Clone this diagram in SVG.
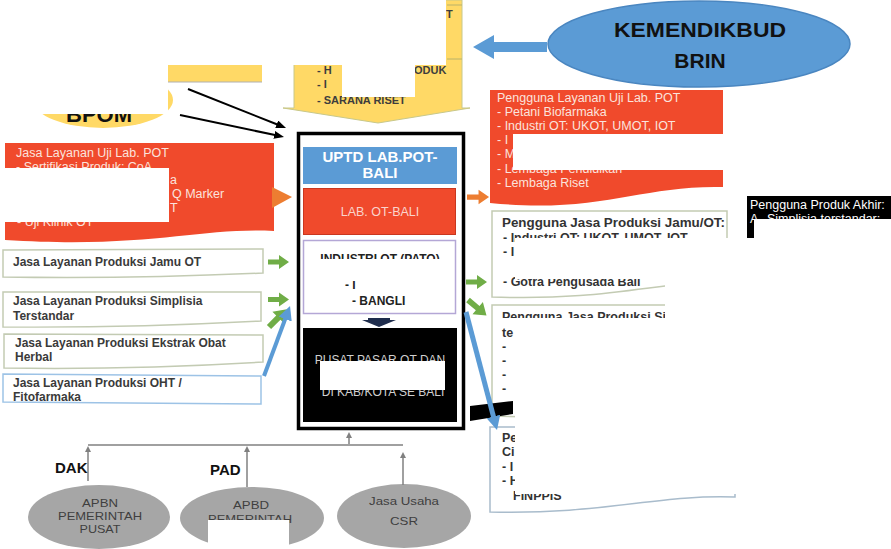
<svg xmlns="http://www.w3.org/2000/svg" width="891" height="549" viewBox="0 0 891 549">
<defs>
<style>
text{font-family:"Liberation Sans",Arial,sans-serif}
.svc{font-size:12px;font-weight:bold;fill:#3a3a3a}
.rw{font-size:12.5px;fill:#fbe3dd}
.rb{font-size:12.5px;font-weight:bold;fill:#333}
.yl{font-size:11px;font-weight:bold;fill:#3d3d3d}
.el{font-size:11px;fill:#3f3f3f;text-anchor:middle}
.doc{fill:#fff;stroke:#c3cbb3;stroke-width:1.5}
.red{fill:#f04a2c}
.wh{fill:#fff}
.gr{fill:#70ad47}
.or{fill:#ed7d31}
.fund{stroke:#808080;stroke-width:1.5;fill:none}
.gel{fill:#a6a6a6}
</style>
<marker id="mk" markerUnits="userSpaceOnUse" markerWidth="10" markerHeight="8" refX="2" refY="4" orient="auto"><path d="M0,0 L10,4 L0,8 Z" fill="#000"/></marker>
<marker id="mb" markerUnits="userSpaceOnUse" markerWidth="14" markerHeight="14" refX="3" refY="7" orient="auto"><path d="M0,0 L14,7 L0,14 Z" fill="#5b9bd5"/></marker>
<marker id="mg" markerUnits="userSpaceOnUse" markerWidth="6" markerHeight="6" refX="1" refY="3" orient="auto"><path d="M0,0 L6,3 L0,6 Z" fill="#808080"/></marker>
<path id="blk" d="M0,-2.5 H11 V-7 L21,0 L11,7 V2.5 H0 Z"/>
</defs>
<rect width="891" height="549" fill="#fff"/>

<g id="yellow-top">
<path d="M294,0 H462 V108 H470 L378,123 L283,108 H294 Z" fill="#ffd966" stroke="#c8c88a" stroke-width="1"/>
<path d="M447,5 H462 M447,59 H462" stroke="#b9b26a" stroke-width="1"/>
<text class="yl" x="446" y="18">T</text>
<text class="yl" x="317" y="74">- H</text>
<text class="yl" x="414" y="74">ODUK</text>
<text class="yl" x="317" y="88">- I</text>
<text class="yl" x="317" y="104">- SARANA RISET</text>
</g>

<g id="yellow-left">
<rect x="168" y="65" width="94" height="17" fill="#ffd966"/>
<path d="M168,82 H262" stroke="#b0b0b0" stroke-width="1"/>
</g>

<g id="bpom">
<ellipse cx="103" cy="100" rx="70" ry="28" fill="#ffd966"/>
<text x="99" y="122" font-size="22" font-weight="bold" text-anchor="middle" fill="#111">BPOM</text>
</g>

<g id="kemendikbud">
<ellipse cx="699" cy="44" rx="151" ry="43" fill="#5b9bd5" stroke="#4a86c0" stroke-width="1.5"/>
<text x="700" y="37" font-size="21" font-weight="bold" text-anchor="middle" fill="#111" textLength="172" lengthAdjust="spacingAndGlyphs">KEMENDIKBUD</text>
<text x="700" y="68" font-size="21" font-weight="bold" text-anchor="middle" fill="#111">BRIN</text>
</g>

<g id="uji-lab-left">
<path class="red" d="M5,143 H274 V231 C200,227 150,249 5,240 Z"/>
<text class="rw" x="16" y="157">Jasa Layanan Uji Lab. POT</text>
<text class="rw" x="16" y="171">- Sertifikasi Produk: CoA</text>
<text class="rw" x="170" y="184">a</text>
<text class="rw" x="172" y="198">Q Marker</text>
<text class="rw" x="170" y="212">T</text>
<text class="rw" x="17" y="226">- Uji Klinik OT</text>
</g>

<g id="svc-jamu">
<path class="doc" d="M3,250 L263,249 L263,273 Q130,279 3,277 Z"/>
<text class="svc" x="13" y="266">Jasa Layanan Produksi Jamu OT</text>
</g>
<g id="svc-simplisia">
<path class="doc" d="M3,292 L261,292 L261,321 Q130,328 3,327 Z"/>
<text class="svc" x="13" y="305">Jasa Layanan Produksi Simplisia</text>
<text class="svc" x="13" y="320">Terstandar</text>
</g>
<g id="svc-ekstrak">
<path class="doc" d="M4,334 L263,335 L263,362 Q130,370 4,368 Z"/>
<text class="svc" x="15" y="347">Jasa Layanan Produksi Ekstrak Obat</text>
<text class="svc" x="15" y="361">Herbal</text>
</g>
<g id="svc-oht">
<path d="M3,374 L261,376 L261,404 L3,402 Z" fill="#fff" stroke="#9dc3e6" stroke-width="1.5"/>
<text class="svc" x="13" y="387">Jasa Layanan Produksi OHT /</text>
<text class="svc" x="13" y="401">Fitofarmaka</text>
</g>

<g id="uptd-frame">
<rect x="298.5" y="133.5" width="165" height="295" fill="#fff" stroke="#000" stroke-width="3.5"/>
</g>
<g id="uptd">
<rect x="303" y="147" width="154" height="37" fill="#5b9bd5"/>
<text x="380" y="162" font-size="15" font-weight="bold" fill="#fff" text-anchor="middle">UPTD LAB.POT-</text>
<text x="380" y="178" font-size="15" font-weight="bold" fill="#fff" text-anchor="middle">BALI</text>
</g>
<g id="lab-ot">
<rect x="303.5" y="188.5" width="152" height="46" class="red" stroke="#c9371f" stroke-width="1"/>
<text x="380" y="216" font-size="12.5" fill="#fad4cc" text-anchor="middle">LAB. OT-BALI</text>
</g>
<g id="industri">
<rect x="303.5" y="240.5" width="152" height="73" fill="#fff" stroke="#b4a7d6" stroke-width="1.5"/>
<text x="380" y="263" font-size="12" font-weight="bold" fill="#222" text-anchor="middle">INDUSTRI OT (PATO)</text>
<text x="345" y="289" font-size="12" font-weight="bold" fill="#222">- I</text>
<text x="352" y="305" font-size="12" font-weight="bold" fill="#222">- BANGLI</text>
</g>
<g id="pusat-pasar">
<rect x="303" y="328" width="154" height="94" fill="#000"/>
<text x="380" y="364" font-size="12" fill="#d0d0d0" text-anchor="middle">PUSAT PASAR OT DAN</text>
<text x="383" y="396" font-size="12" fill="#d0d0d0" text-anchor="middle">DI KAB/KOTA SE BALI</text>
</g>

<g id="uji-lab-right">
<path class="red" d="M490,90 H723 V187 C640,185 600,214 490,203 Z"/>
<text class="rw" x="497" y="102">Pengguna Layanan Uji Lab. POT</text>
<text class="rw" x="497" y="116">- Petani Biofarmaka</text>
<text class="rw" x="497" y="130">- Industri OT: UKOT, UMOT, IOT</text>
<text class="rw" x="497" y="144">- I</text>
<text class="rw" x="497" y="158">- M</text>
<text class="rw" x="497" y="173">- Lembaga Pendidikan</text>
<text class="rw" x="497" y="187">- Lembaga Riset</text>
</g>

<g id="produk-akhir">
<rect x="747" y="196" width="144" height="42" fill="#000"/>
<text x="750" y="209" font-size="12.5" fill="#fff">Pengguna Produk Akhir:</text>
<text x="750" y="223" font-size="12.5" fill="#fff">A.</text>
<text x="767" y="223" font-size="12.5" fill="#fff">Simplisia terstandar:</text>
</g>

<g id="pengguna-jamu">
<path class="doc" d="M492,211 H727 V280 C650,284 600,301 492,297 Z"/>
<text x="502" y="227" font-size="13" font-weight="bold" fill="#333" textLength="223" lengthAdjust="spacingAndGlyphs">Pengguna Jasa Produksi Jamu/OT:</text>
<text class="rb" x="503" y="242">- Industri OT: UKOT, UMOT, IOT</text>
<text class="rb" x="503" y="256">- I</text>
<text class="rb" x="503" y="286">- Gotra Pengusada Bali</text>
</g>

<g id="pengguna-simplisia">
<path class="doc" d="M492,305 H727 V405 C650,410 600,420 492,416 Z"/>
<text class="rb" x="502" y="321">Pengguna Jasa Produksi Sim</text>
<text class="rb" x="502" y="337">te</text>
<text class="rb" x="502" y="351">-</text>
<text class="rb" x="502" y="365">-</text>
<text class="rb" x="502" y="379">-</text>
<text class="rb" x="502" y="393">-</text>
</g>

<g id="pengguna-bawah">
<path d="M490,427 H735 V497 C660,494 600,515 490,512 Z" fill="#fff" stroke="#a9bccc" stroke-width="1.5"/>
<text class="rb" x="502" y="442">Pe</text>
<text class="rb" x="502" y="456">Ci</text>
<text class="rb" x="502" y="471">- I</text>
<text class="rb" x="502" y="485">- H</text>
<text class="rb" x="513" y="500">FINPPIS</text>
</g>

<g id="apbn">
<ellipse class="gel" cx="99" cy="517" rx="71" ry="32"/>
<text class="el" x="100" y="507" textLength="36" lengthAdjust="spacingAndGlyphs">APBN</text>
<text class="el" x="100" y="520" textLength="84" lengthAdjust="spacingAndGlyphs">PEMERINTAH</text>
<text class="el" x="100" y="533" textLength="41" lengthAdjust="spacingAndGlyphs">PUSAT</text>
</g>
<g id="apbd">
<ellipse class="gel" cx="252" cy="518" rx="72" ry="31"/>
<text class="el" x="251" y="509" textLength="36" lengthAdjust="spacingAndGlyphs">APBD</text>
<text class="el" x="250" y="523" textLength="84" lengthAdjust="spacingAndGlyphs">PEMERINTAH</text>
</g>
<g id="csr">
<ellipse class="gel" cx="404" cy="516" rx="67" ry="32"/>
<text class="el" x="404" y="505" textLength="70" lengthAdjust="spacingAndGlyphs">Jasa Usaha</text>
<text class="el" x="404" y="525" textLength="28" lengthAdjust="spacingAndGlyphs">CSR</text>
</g>

<g id="connectors">
<polygon points="547,42 494,42 494,35 473,47 494,59 494,52 547,52" fill="#5b9bd5"/>
<path d="M188,89 L278.6,125" stroke="#000" stroke-width="2" marker-end="url(#mk)"/>
<path d="M180,115 L276.2,135.3" stroke="#000" stroke-width="2" marker-end="url(#mk)"/>
<polygon class="or" points="272,187 292,197 272,208"/>
<use href="#blk" class="or" transform="translate(467,197) scale(1.05)"/>
<use href="#blk" class="gr" transform="translate(268,262)"/>
<use href="#blk" class="gr" transform="translate(268,299.5)"/>
<use href="#blk" class="gr" transform="translate(269,327) rotate(-45) scale(1.2)"/>
<use href="#blk" class="gr" transform="translate(466,282)"/>
<use href="#blk" class="gr" transform="translate(468,300) rotate(40) scale(1.15)"/>
<path d="M264,376 L286.2,316.3" stroke="#5b9bd5" stroke-width="4" fill="none" marker-end="url(#mb)"/>
<polygon points="362,320 368,320 368,318 390,318 390,320 396,320 379,327" fill="#1f2d4d"/>
<polygon points="470,406 513,401 513,414 470,421" fill="#000"/>
<path d="M466,312 L494.2,419.4" stroke="#5b9bd5" stroke-width="5" fill="none" marker-end="url(#mb)"/>
<path class="fund" d="M88,445 H403"/>
<path class="fund" d="M88,481 V451" marker-end="url(#mg)"/>
<path class="fund" d="M247,487 V451" marker-end="url(#mg)"/>
<path class="fund" d="M403,485 V457" marker-end="url(#mg)"/>
<path class="fund" d="M349,444 V437" marker-end="url(#mg)"/>
<text x="55" y="473" font-size="15" font-weight="bold" fill="#111">DAK</text>
<text x="210" y="475" font-size="15" font-weight="bold" fill="#111">PAD</text>
</g>

<g id="masks">
<rect class="wh" x="0" y="0" width="446" height="65"/>
<rect class="wh" x="0" y="65" width="168" height="49"/>
<rect class="wh" x="342" y="65" width="73" height="32"/>
<rect class="wh" x="0" y="168" width="169" height="54"/>
<rect class="wh" x="305" y="259" width="149" height="22"/>
<rect class="wh" x="358" y="281" width="95" height="13"/>
<rect class="wh" x="320" y="361" width="125" height="29"/>
<rect class="wh" x="513" y="134" width="227" height="36"/>
<rect class="wh" x="515" y="238" width="225" height="41"/>
<rect class="wh" x="665" y="279" width="80" height="40"/>
<rect class="wh" x="500" y="318" width="240" height="6"/>
<rect class="wh" x="515" y="318" width="225" height="176"/>
<rect class="wh" x="754" y="219" width="137" height="30"/>
<rect class="wh" x="208" y="520" width="81" height="29"/>
</g>
</svg>
